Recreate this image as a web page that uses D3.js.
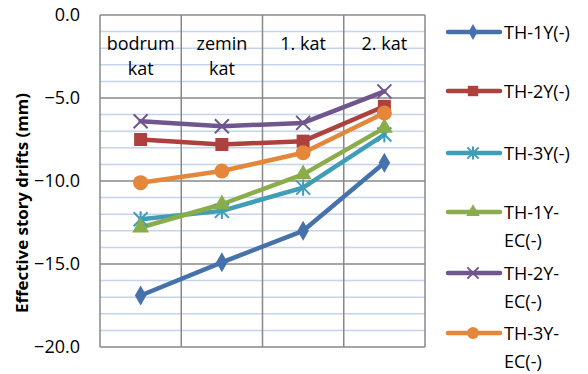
<!DOCTYPE html>
<html>
<head>
<meta charset="utf-8">
<script src="https://cdn.jsdelivr.net/npm/d3@7"></script>
<style>
  html, body { margin: 0; padding: 0; background: #fff; }
  svg text { font-family: "Open Sans", "Noto Sans", sans-serif; fill: #000; }
</style>
</head>
<body>
<svg id="chart" width="588" height="374"></svg>
<script>
// Story levels along the horizontal axis
const categories = ["bodrum kat", "zemin kat", "1. kat", "2. kat"];

// Effective story drifts (mm) per analysis case
const th1y   = [-16.9, -14.9, -13.0, -8.9];
const th2y   = [-7.5, -7.8, -7.6, -5.5];
const th3y   = [-12.3, -11.8, -10.4, -7.2];
const th1yEc = [-12.8, -11.4, -9.6, -6.8];
const th2yEc = [-6.4, -6.7, -6.5, -4.6];
const th3yEc = [-10.1, -9.4, -8.3, -5.9];

const seriesNames = ["TH-1Y(-)", "TH-2Y(-)", "TH-3Y(-)", "TH-1Y-EC(-)", "TH-2Y-EC(-)", "TH-3Y-EC(-)"];
const legendLines = [["TH-1Y(-)"], ["TH-2Y(-)"], ["TH-3Y(-)"], ["TH-1Y-", "EC(-)"], ["TH-2Y-", "EC(-)"], ["TH-3Y-", "EC(-)"]];

const yTicks = [0, -5, -10, -15, -20];
const yTitle = "Effective story drifts (mm)";

const series = [
  { name: seriesNames[0], values: th1y,   color: "#4672AC", marker: "diamond" },
  { name: seriesNames[1], values: th2y,   color: "#AE403D", marker: "square" },
  { name: seriesNames[2], values: th3y,   color: "#3F9DB8", marker: "asterisk" },
  { name: seriesNames[3], values: th1yEc, color: "#89AD4A", marker: "triangle" },
  { name: seriesNames[4], values: th2yEc, color: "#70568F", marker: "cross" },
  { name: seriesNames[5], values: th3yEc, color: "#E4873A", marker: "circle" }
];

const svg = d3.select("#chart");
const plot = { left: 100, right: 425, top: 15, bottom: 347 };

const x = d3.scaleBand().domain(categories).range([plot.left, plot.right]);
const y = d3.scaleLinear().domain([-20, 0]).range([plot.bottom, plot.top]);

// Minor gridlines every 1 mm
const minor = d3.range(-19, 0, 1).filter(v => v % 5 !== 0);
svg.append("g").selectAll("line").data(minor).join("line")
  .attr("x1", plot.left).attr("x2", plot.right)
  .attr("y1", d => y(d)).attr("y2", d => y(d))
  .attr("stroke", "#C3D4EC").attr("stroke-width", 1.5);

// Major gridlines every 5 mm
svg.append("g").selectAll("line").data(yTicks).join("line")
  .attr("x1", plot.left).attr("x2", plot.right)
  .attr("y1", d => y(d)).attr("y2", d => y(d))
  .attr("stroke", "#888").attr("stroke-width", 1.5);

// Vertical separators between story levels
const bounds = categories.map(c => x(c)).concat([plot.right]);
svg.append("g").selectAll("line").data(bounds).join("line")
  .attr("x1", d => d).attr("x2", d => d)
  .attr("y1", plot.top).attr("y2", plot.bottom)
  .attr("stroke", "#888").attr("stroke-width", 1.5);

// Y axis tick labels
const yAxis = d3.axisLeft(y).tickValues(yTicks).tickFormat(d3.format(".1f")).tickSize(0).tickPadding(20);
const yg = svg.append("g").attr("transform", `translate(${plot.left},0)`).call(yAxis);
yg.select(".domain").remove();
yg.selectAll("text").attr("font-size", 18).attr("font-family", "Open Sans, sans-serif").attr("fill", "#000");

// Y axis title
svg.append("text")
  .attr("transform", `translate(28, 203) rotate(-90)`)
  .attr("text-anchor", "middle")
  .attr("font-size", 16.5).attr("font-weight", "bold")
  .attr("textLength", 220).attr("lengthAdjust", "spacingAndGlyphs")
  .text(yTitle);

// Category labels inside the top of the plot
const catG = svg.append("g");
categories.forEach(c => {
  const words = c.split(" ");
  const cx = x(c) + x.bandwidth() / 2;
  const t = catG.append("text")
    .attr("x", cx)
    .attr("y", 50)
    .attr("text-anchor", "middle")
    .attr("font-size", 18);
  if (words.length === 2 && words[0] !== "1." && words[0] !== "2.") {
    t.append("tspan").attr("x", cx).attr("dy", 0).text(words[0]);
    t.append("tspan").attr("x", cx).attr("dy", 25).text(words[1]);
  } else {
    t.text(c);
  }
});

// Marker drawing
function drawMarker(g, type, color, cx, cy, s) {
  s = s || 1;
  if (type === "diamond") {
    g.append("path").attr("d", d3.symbol(d3.symbolDiamond, 115 * s * s)())
      .attr("transform", `translate(${cx},${cy})`).attr("fill", color);
  } else if (type === "square") {
    const h = 6.5 * s;
    g.append("rect").attr("x", cx - h).attr("y", cy - h).attr("width", 2 * h).attr("height", 2 * h)
      .attr("fill", color);
  } else if (type === "triangle") {
    g.append("path").attr("d", d3.symbol(d3.symbolTriangle, 125 * s * s)())
      .attr("transform", `translate(${cx},${cy})`).attr("fill", color);
  } else if (type === "circle") {
    g.append("circle").attr("cx", cx).attr("cy", cy).attr("r", 7.5 * s).attr("fill", color);
  } else if (type === "cross") {
    const h = 7 * s;
    g.append("path").attr("d", `M${cx - h},${cy - h}L${cx + h},${cy + h}M${cx - h},${cy + h}L${cx + h},${cy - h}`)
      .attr("stroke", color).attr("stroke-width", 2).attr("fill", "none");
  } else if (type === "asterisk") {
    const h = 7 * s;
    g.append("path").attr("d", `M${cx - h},${cy - h}L${cx + h},${cy + h}M${cx - h},${cy + h}L${cx + h},${cy - h}M${cx},${cy - h * 1.15}L${cx},${cy + h * 1.15}`)
      .attr("stroke", color).attr("stroke-width", 2).attr("fill", "none");
  }
}

// Lines and markers
const line = d3.line()
  .x((d, i) => x(categories[i]) + x.bandwidth() / 2)
  .y(d => y(d));

const seriesG = svg.append("g");
series.forEach(s => {
  seriesG.append("path").datum(s.values)
    .attr("d", line)
    .attr("fill", "none")
    .attr("stroke", s.color)
    .attr("stroke-width", 4.5)
    .attr("stroke-linejoin", "round")
    .attr("stroke-linecap", "round");
});
series.forEach(s => {
  const g = seriesG.append("g");
  s.values.forEach((v, i) => drawMarker(g, s.marker, s.color, x(categories[i]) + x.bandwidth() / 2, y(v)));
});

// Legend
const legendY = [32, 91, 153, 212, 273, 333];
const lg = svg.append("g");
series.forEach((s, i) => {
  const cy = legendY[i];
  lg.append("line").attr("x1", 448).attr("x2", 500).attr("y1", cy).attr("y2", cy)
    .attr("stroke", s.color).attr("stroke-width", 4.5).attr("stroke-linecap", "round");
  drawMarker(lg, s.marker, s.color, 473, cy, 0.8);
  const t = lg.append("text").attr("x", 504).attr("y", cy + 7).attr("font-size", 18);
  legendLines[i].forEach((ln, j) => {
    t.append("tspan").attr("x", 504).attr("dy", j === 0 ? 0 : 28).text(ln);
  });
});
</script>
</body>
</html>
